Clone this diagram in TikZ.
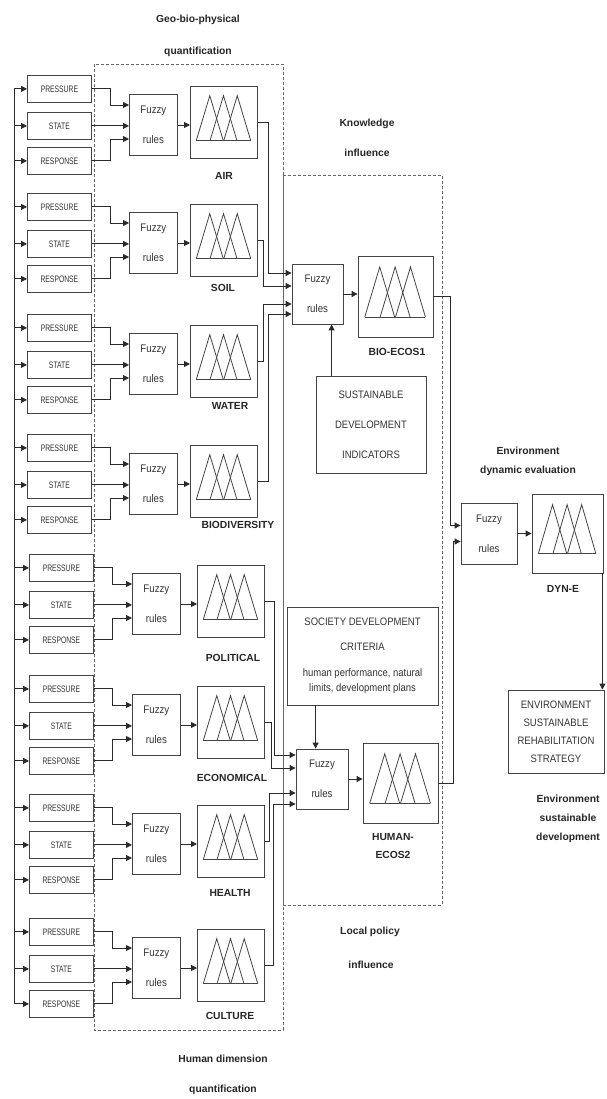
\documentclass[tikz,border=0pt]{standalone}
\usepackage{fontspec}
\setmainfont{Liberation Sans}
\newfontfamily\narrowA[FakeStretch=0.72]{Liberation Sans}
\newfontfamily\narrowB[FakeStretch=0.88]{Liberation Sans}
\usetikzlibrary{arrows.meta,calc}
\definecolor{boxgray}{HTML}{454545}
\definecolor{linegray}{HTML}{2a2a2a}
\definecolor{dashgray}{HTML}{666666}
\tikzset{
  inbox/.style={draw=boxgray, line width=0.8pt, minimum width=64pt, minimum height=27pt, inner sep=0pt, anchor=north west, text=black!80, font=\narrowA\fontsize{9.4}{10}\selectfont},
  fuzzy/.style={draw=boxgray, line width=0.8pt, minimum width=48pt, minimum height=61pt, inner sep=0pt, anchor=west, align=center, text=black!80, font=\narrowB\fontsize{11}{12}\selectfont},
  mfbox/.style={draw=boxgray, line width=0.8pt, minimum width=67pt, minimum height=72pt, inner sep=0pt, anchor=west},
  txtbox/.style={draw=boxgray, line width=0.8pt, inner sep=0pt, align=center, text=black!80, font=\narrowB\fontsize{10.8}{12}\selectfont},
  grplbl/.style={font=\bfseries\fontsize{10.3}{12}\selectfont, align=center, inner sep=0pt, text=black!85},
  conn/.style={draw=linegray, line width=0.9pt},
  arr/.style={-{Triangle[length=6pt,width=6pt]}},
  dashbox/.style={draw=dashgray, line width=0.8pt, dash pattern=on 3pt off 2pt}
}
\newcommand\mftri[3]{%
  \begin{scope}[shift={(#1.north west)}, x=#2pt, y=-#3pt, draw=boxgray, line width=0.8pt]
    \draw (0.095,0.76) -- (0.905,0.76);
    \draw (0.095,0.76) -- (0.295,0.14) -- (0.495,0.76);
    \draw (0.30,0.76) -- (0.50,0.14) -- (0.70,0.76);
    \draw (0.505,0.76) -- (0.705,0.14) -- (0.905,0.76);
  \end{scope}}
% #1 id, #2 ytop, #3 xbox, #4 xfuzzy, #5 xmf, #6 label x, #7 label y, #8 label
\newcommand\grp[8]{%
  \node[inbox] (#1p) at (#3,#2) {PRESSURE};
  \node[inbox] (#1s) at (#3,#2+37) {STATE};
  \node[inbox] (#1r) at (#3,#2+72) {RESPONSE};
  \node[fuzzy] (#1f) at (#4,#2+50) {Fuzzy\\[18pt]rules};
  \node[mfbox] (#1m) at (#5,#2+47) {};
  \mftri{#1m}{67}{72}
  \node[grplbl] (#1l) at (#6,#7) {#8};
  \draw[conn,arr] (bus |- #1p.west) -- (#1p.west);
  \draw[conn,arr] (bus |- #1s.west) -- (#1s.west);
  \draw[conn,arr] (bus |- #1r.west) -- (#1r.west);
  \draw[conn,arr] (#1p.east) -- ++(19,0) |- ($(#1f.west)+(0,-20)$);
  \draw[conn,arr] (#1s.east) -- (#1s.east -| #1f.west);
  \draw[conn,arr] (#1r.east) -- ++(19,0) |- ($(#1f.west)+(0,14)$);
  \draw[conn,arr] (#1f.east) -- (#1f.east -| #1m.west);
}
\begin{document}
\begin{tikzpicture}[x=1pt,y=-1pt]
\useasboundingbox (0,0) rectangle (606,1099);
\coordinate (bus) at (14,0);
% dashed frames
\draw[dashbox] (94,64) rectangle (283,1030);
\draw[dashbox] (283,175) rectangle (442,905);
% frame labels
\node[grplbl] (t1) at (198,20) {Geo-bio-physical};
\node[grplbl] (t2) at (198,52) {quantification};
\node[grplbl] (t3) at (367,124) {Knowledge};
\node[grplbl] (t4) at (367,153) {influence};
\node[grplbl] (t5) at (370,932) {Local policy};
\node[grplbl] (t6) at (371,965) {influence};
\node[grplbl] (t7) at (223,1059) {Human dimension};
\node[grplbl] (t8) at (223,1090) {quantification};
% groups
\grp{ga}{75}{27}{129}{190}{224}{176}{AIR}
\grp{gb}{193}{27}{129}{190}{223}{288}{SOIL}
\grp{gc}{314}{27}{129}{190}{230}{406}{WATER}
\grp{gd}{434}{27}{129}{190}{238}{525}{BIODIVERSITY}
\grp{ge}{554}{29}{132}{197}{233}{658}{POLITICAL}
\grp{gf}{675}{29}{132}{197}{232}{778}{ECONOMICAL}
\grp{gg}{794}{29}{132}{197}{230}{893}{HEALTH}
\grp{gh}{918}{29}{132}{197}{230}{1016}{CULTURE}
\draw[conn] (bus |- gap.west) -- (bus |- ghr.west);
% middle: bio-ecos
\node[fuzzy, anchor=center, minimum width=51pt, minimum height=60pt] (f1) at (317.5,294) {Fuzzy\\[18pt]rules};
\node[mfbox, anchor=center, minimum width=75pt, minimum height=81pt] (b1) at (395.5,296.5) {};
\mftri{b1}{75}{81}
\node[grplbl] (b1l) at (397,352) {BIO-ECOS1};
\node[txtbox, minimum width=110pt, minimum height=97pt] (sus) at (371,424.5) {SUSTAINABLE\\[18pt]DEVELOPMENT\\[18pt]INDICATORS};
\draw[conn,arr] (gam.east) -- ++(11,0) |- ($(f1.west)+(0,-21)$);
\draw[conn,arr] (gbm.east) -- ++(6,0) |- ($(f1.west)+(0,-8)$);
\draw[conn,arr] (gcm.east) -- ++(6,0) |- ($(f1.west)+(0,10)$);
\draw[conn,arr] (gdm.east) -- ++(11,0) |- ($(f1.west)+(0,20)$);
\draw[conn,arr] (f1.east) -- (f1.east -| b1.west);
\coordinate (susa) at ($(sus.north west)+(16,0)$);
\draw[conn,arr] (susa) -- (susa |- f1.south);
% middle: human-ecos
\node[txtbox, minimum width=151pt, minimum height=98pt] (soc) at (362.5,656) {SOCIETY DEVELOPMENT\\[13pt]CRITERIA\\[14pt]human performance, natural\\[3pt]limits, development plans};
\node[fuzzy, anchor=center, minimum width=52pt, minimum height=60pt] (f2) at (322,779) {Fuzzy\\[18pt]rules};
\node[mfbox, anchor=center, minimum width=75pt, minimum height=80pt] (h2) at (400.5,783) {};
\mftri{h2}{75}{80}
\node[grplbl] (h2l) at (393,846) {HUMAN-\\[6pt]ECOS2};
\draw[conn,arr] (gem.east) -- ++(10,0) |- ($(f2.west)+(0,-24)$);
\draw[conn,arr] (gfm.east) -- ++(7,0) |- ($(f2.west)+(0,-11)$);
\draw[conn,arr] (ggm.east) -- ++(5,0) |- ($(f2.west)+(0,14)$);
\draw[conn,arr] (ghm.east) -- ++(9,0) |- ($(f2.west)+(0,25)$);
\draw[conn,arr] (f2.east) -- (f2.east -| h2.west);
\coordinate (soca) at ($(soc.south west)+(29,0)$);
\draw[conn,arr] (soca) -- (soca |- f2.north);
% right: dynamic evaluation
\node[grplbl] (edl) at (528,461.5) {Environment\\[7pt]dynamic evaluation};
\node[fuzzy, anchor=center, minimum width=56pt, minimum height=61pt] (f3) at (489,533.5) {Fuzzy\\[18pt]rules};
\node[mfbox, anchor=center, minimum width=71pt, minimum height=79pt] (dy) at (567.5,533.5) {};
\mftri{dy}{71}{79}
\node[grplbl] (dyl) at (563,589) {DYN-E};
\draw[conn,arr] (b1.east) -- ++(17,0) |- ($(f3.west)+(0,-8)$);
\draw[conn,arr] (h2.east) -- ++(15,0) |- ($(f3.west)+(0,8)$);
\draw[conn,arr] (f3.east) -- (f3.east -| dy.west);
\node[txtbox, minimum width=96pt, minimum height=83pt] (env) at (556,731.5) {ENVIRONMENT\\[6pt]SUSTAINABLE\\[6pt]REHABILITATION\\[6pt]STRATEGY};
\coordinate (dya) at ($(dy.south east)+(-1,0)$);
\draw[conn,arr] (dya) -- (dya |- env.north);
\node[grplbl] (esl) at (568,819) {Environment\\[7pt]sustainable\\[7pt]development};
\end{tikzpicture}
\end{document}
